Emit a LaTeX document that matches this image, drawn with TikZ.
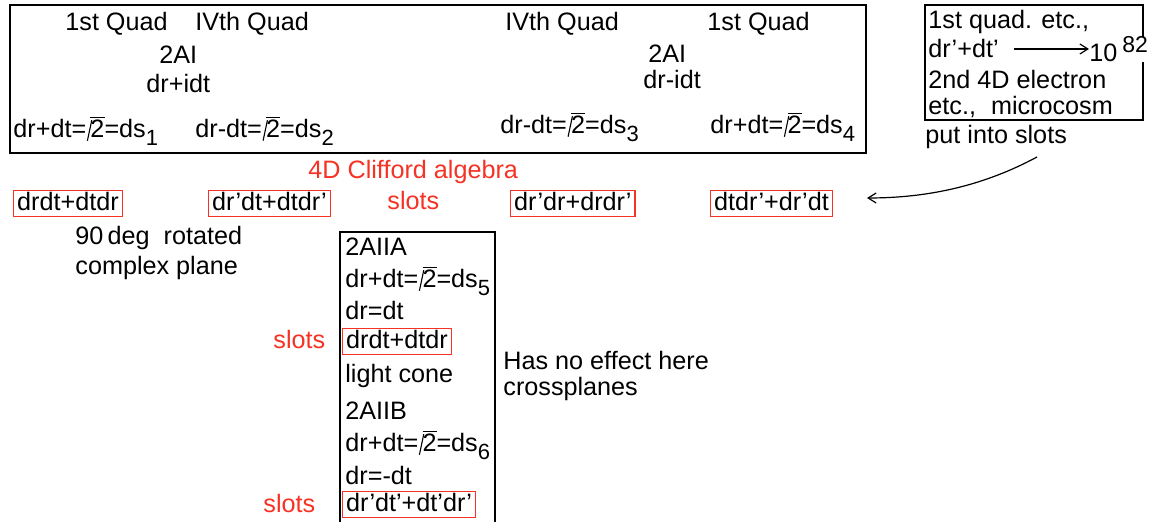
\documentclass[tikz,border=0pt]{standalone}
\usepackage{amsmath}
\usepackage{fontspec}
\setmainfont{Liberation Sans}
\usepackage{xcolor}
\usetikzlibrary{arrows.meta}
\definecolor{slotred}{RGB}{245,50,35}

\newcommand{\rttwo}{\kern0.3pt\rotatebox[origin=c]{-12}{\rule[-1.5pt]{0.55pt}{10.5pt}}\kern-0.9pt$\overline{\text{2}}$}
\newcommand{\lowsub}[1]{\raisebox{-4pt}{\fontsize{11pt}{12pt}\selectfont #1}}

\begin{document}
\begin{tikzpicture}[x=0.5pt,y=-0.5pt,
  lbl/.style={anchor=base west, inner sep=0pt, font=\fontsize{12.6pt}{15pt}\selectfont},
  redlbl/.style={lbl, text=slotred},
  slotbox/.style={lbl, draw=slotred, line width=0.7pt, inner xsep=1.75pt, inner ysep=1.2pt, text height=9.1pt, text depth=1.5pt},
  frame/.style={draw, line width=0.8pt},
  barb/.style={-{Straight Barb[length=4pt,width=5pt]}, line width=0.6pt}]

\useasboundingbox (0,0) rectangle (1157,522);

\draw[frame] (10,5) rectangle (866,153);
\draw[frame] (925,5) rectangle (1143,120);
\draw[frame] (340,522) -- (340,232) -- (495,232) -- (495,522);

% the two 2AI halves
\node[lbl] (quadIa) at (65,31) {1st Quad};
\node[lbl] (quadIVa) at (195,31) {IVth Quad};
\node[lbl] (twoAIa) at (159,64) {2AI};
\node[lbl] (plusidt) at (146,93) {dr+idt};
\node[lbl] (dsone) at (13,138) {dr+dt=\rttwo=ds\lowsub{1}};
\node[lbl] (dstwo) at (195,138) {dr-dt=\rttwo=ds\lowsub{2}};

\node[lbl] (quadIVb) at (505,31) {IVth Quad};
\node[lbl] (quadIb) at (707,31) {1st Quad};
\node[lbl] (twoAIb) at (648,63) {2AI};
\node[lbl] (minusidt) at (643,89) {dr-idt};
\node[lbl] (dsthree) at (500,134) {dr-dt=\rttwo=ds\lowsub{3}};
\node[lbl] (dsfour) at (710,134) {dr+dt=\rttwo=ds\lowsub{4}};

% microcosm box
\node[lbl] (quadetc) at (928,29) {1st quad. etc.,};
\node[lbl] (sumprime) at (928,58) {dr'+dt'};
\node[lbl, fill=white] (tenpow) at (1089,62) {10\kern2.5pt\raisebox{4.5pt}{\fontsize{11.5pt}{12pt}\selectfont 82}};
\node[lbl] (electron) at (928,89) {2nd 4D electron};
\node[lbl] (microcosm) at (928,115) {etc.,\hspace{4pt} microcosm};
\node[lbl] (putslots) at (925,144) {put into slots};
\draw[barb] ([xshift=7.5pt]sumprime.east) -- (sumprime.east -| tenpow.west);

% slot row
\node[redlbl] (clifford) at (308,179) {4D Clifford algebra};
\node[redlbl] (slotsrow) at (387,210) {slots};
\node[slotbox] (first) at (13,211) {drdt+dtdr};
\node[slotbox] (second) at (208,211) {dr'dt+dtdr'};
\node[slotbox] (third) at (510,211) {dr'dr+drdr'};
\node[slotbox] (fourth) at (710,211) {dtdr'+dr'dt};
\node[lbl] (rotated) at (75,245) {90\,deg\hspace{7pt}rotated};
\node[lbl] (cplane) at (75,275) {complex plane};

\coordinate (sweepfrom) at (1037,157);
\draw[barb] (sweepfrom) .. controls (985,185) and (930,198) .. ([xshift=17pt,yshift=2.7pt]fourth.east);

% 2AII column
\node[lbl] (twoAIIA) at (345,256) {2AIIA};
\node[lbl] (dsfive) at (345,288) {dr+dt=\rttwo=ds\lowsub{5}};
\node[lbl] (equal) at (345,320) {dr=dt};
\node[slotbox] (lowerA) at (342,349) {drdt+dtdr};
\node[redlbl] (slotsA) at (273,349) {slots};
\node[lbl] (lightcone) at (345,383) {light cone};
\node[lbl] (twoAIIB) at (345,420) {2AIIB};
\node[lbl] (dssix) at (345,452) {dr+dt=\rttwo=ds\lowsub{6}};
\node[lbl] (opposite) at (345,485) {dr=-dt};
\node[slotbox] (lowerB) at (342,512) {dr'dt'+dt'dr'};
\node[redlbl] (slotsB) at (263,513) {slots};

\node[lbl] (noeffect) at (503,370) {Has no effect here};
\node[lbl] (crossplanes) at (503,396) {crossplanes};

\end{tikzpicture}
\end{document}
